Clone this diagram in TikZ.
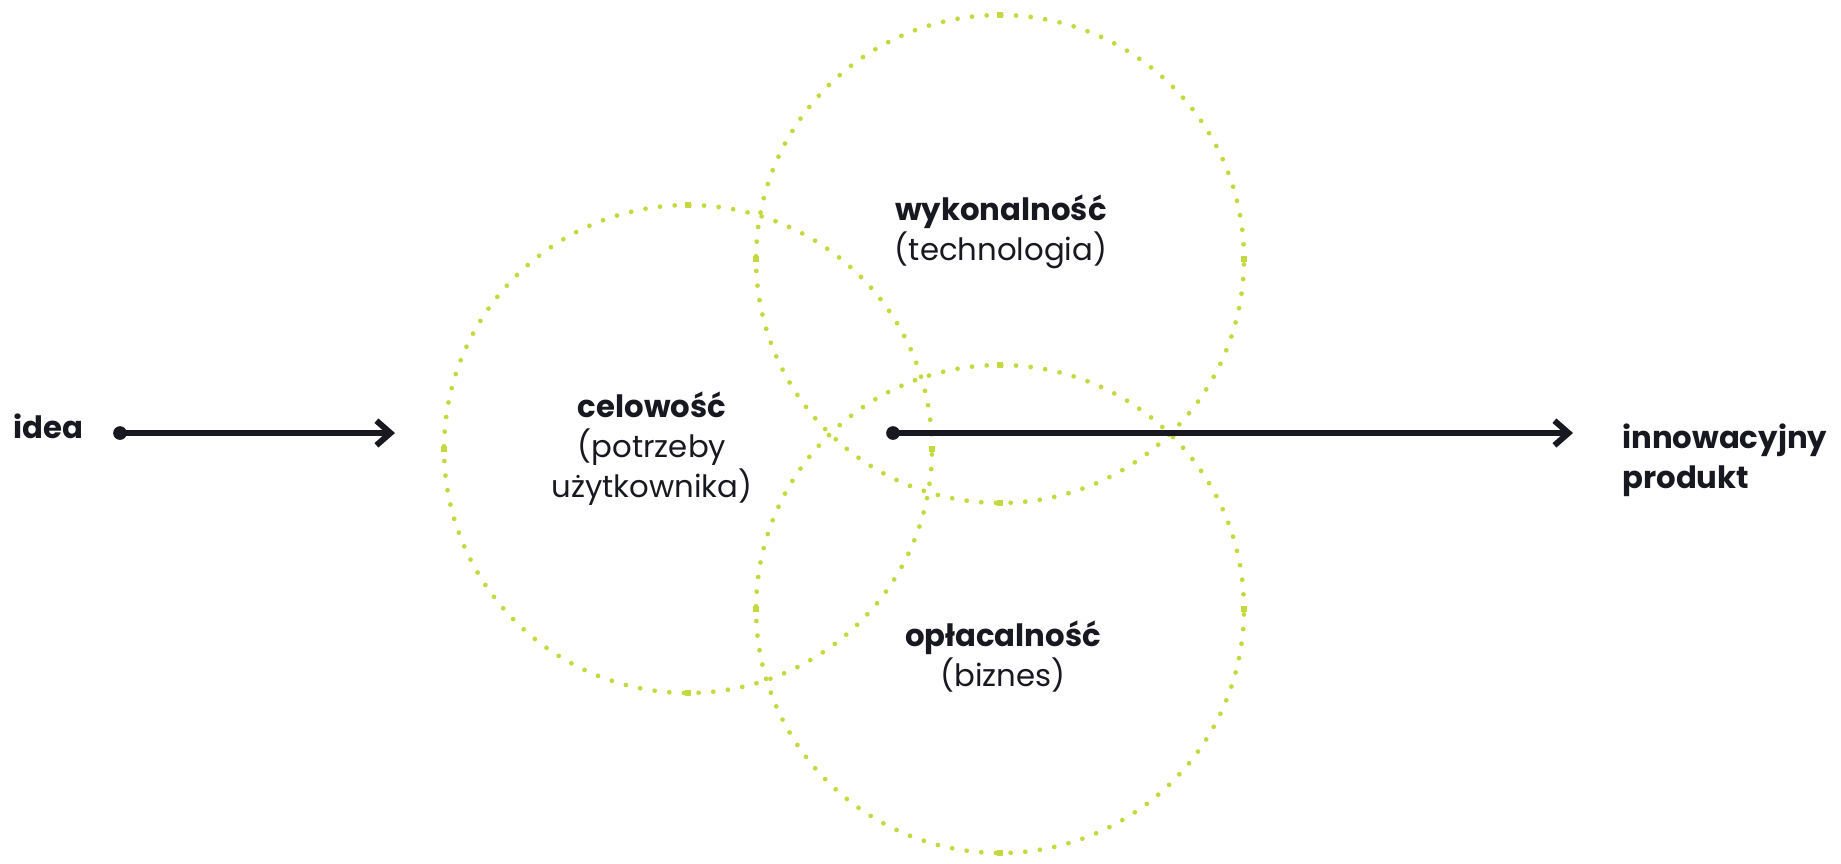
\documentclass[tikz,border=0pt]{standalone}
\usepackage{fontspec}
\setmainfont{Poppins}
\usetikzlibrary{arrows.meta}
\definecolor{vennlime}{RGB}{196,216,64}
\definecolor{ink}{RGB}{24,24,32}
\tikzset{
	venn/.style={vennlime, line width=2.7pt, line cap=round, dash pattern=on 0pt off 8.36pt},
	term/.style={align=center, font=\fontsize{17.5}{22.5}\selectfont, text=ink, inner sep=0pt},
	flow/.style={ink, -{Straight Barb[length=8pt,width=14pt]}, line width=3.4pt},
}
\begin{document}
\begin{tikzpicture}[x=0.02cm, y=-0.02cm]
			\useasboundingbox (0,0) rectangle (1841,863);
			% three circles
			\coordinate (c_need) at (688,449);
			\coordinate (c_tech) at (1000,259);
			\coordinate (c_biz) at (1000,609);
			\foreach \c in {c_need, c_tech, c_biz} {
				\draw[venn] (\c) circle[radius=4.88cm];
				\foreach \a in {0,90,180,270}
					\fill[vennlime] (\c) ++(\a:4.88cm) +(-1.8pt,-1.8pt) rectangle +(1.8pt,1.8pt);
			}
			% labels (base = last line)
			\node[term, anchor=base west] (idea) at (13,438) {\bfseries idea};
			\node[term, anchor=base west, align=left] (product) at (1622,488) {\bfseries innowacyjny\\\bfseries produkt};
			\node[term, anchor=base] (need) at (652,497) {\bfseries celowość\\(potrzeby\\użytkownika)};
			\node[term, anchor=base] (tech) at (1001,260) {\bfseries wykonalność\\(technologia)};
			\node[term, anchor=base] (biz) at (1003,686) {\bfseries opłacalność\\(biznes)};
			% arrows
			\coordinate (idea_out) at (120,433);
			\coordinate (need_in) at (395,433);
			\coordinate (core) at (893,433);
			\coordinate (product_in) at (1573,433);
			\fill[ink] (idea_out) circle[radius=3.9pt];
			\fill[ink] (core) circle[radius=3.9pt];
			\draw[flow] (idea_out) -- (need_in);
			\draw[flow] (core) -- (product_in);
		\end{tikzpicture}
\end{document}
